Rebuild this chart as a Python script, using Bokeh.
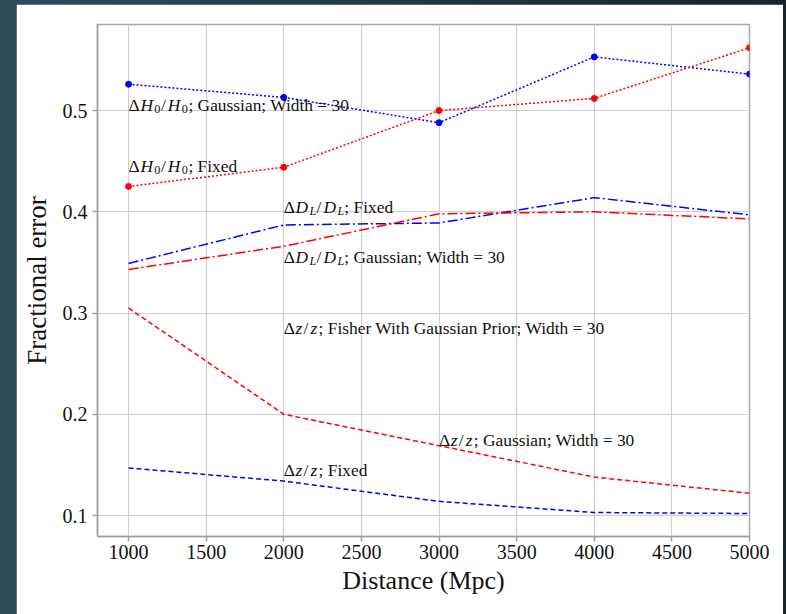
from bokeh.plotting import figure
from bokeh.models import ColumnDataSource, FixedTicker, Spacer
from bokeh.layouts import row, column
from bokeh.embed import file_html
from bokeh.resources import INLINE
from bokeh.core.properties import value

# Distances of the simulated sources (Mpc)
distance = [1000, 2000, 3000, 4000, 5000]

# Fractional errors for each parameter / prior choice
h0_gauss = [0.526, 0.513, 0.488, 0.553, 0.536]
h0_fixed = [0.425, 0.444, 0.500, 0.512, 0.562]
dl_fixed = [0.349, 0.387, 0.389, 0.414, 0.397]
dl_gauss = [0.343, 0.366, 0.398, 0.400, 0.393]
z_gauss = [0.305, 0.200, 0.169, 0.138, 0.122]
z_fixed = [0.147, 0.134, 0.114, 0.103, 0.102]

x_ticks = [1000, 1500, 2000, 2500, 3000, 3500, 4000, 4500, 5000]
y_ticks = [0.1, 0.2, 0.3, 0.4, 0.5]

# In-plot annotations: anchor, math variable, its subscript, trailing text
label_x = [1000, 1000, 2000, 2000, 2000, 2000, 3000]
label_y = [0.505, 0.445, 0.405, 0.355, 0.285, 0.145, 0.175]
label_var = ["H", "H", "D", "D", "z", "z", "z"]
label_sub = ["0", "0", "L", "L", "", "", ""]
label_rest = [
    "; Gaussian; Width = 30",
    "; Fixed",
    "; Fixed",
    "; Gaussian; Width = 30",
    "; Fisher With Gaussian Prior; Width = 30",
    "; Fixed",
    "; Gaussian; Width = 30",
]

FONT = "Liberation Serif"
FS = 17.4        # annotation font size (px)
SUB_FS = 12.2    # subscript font size (px)
SUB_DROP = 4     # subscript baseline drop (px)

# approximate advance widths (em of FS) of the math pieces
ADV = {"Δ": 0.68, "/": 0.40, "H": 0.80, "D": 0.80, "z": 0.46, "0": 0.38, "L": 0.40}

p = figure(
    width=767, height=610,
    x_range=(800, 5000), y_range=(0.0793, 0.585),
    output_backend="svg", toolbar_location=None,
    min_border_left=81, min_border_right=34, min_border_top=20, min_border_bottom=78,
)
p.background_fill_color = "white"
p.border_fill_color = "white"
p.outline_line_color = "#a8a8a8"
p.outline_line_width = 1.5

for ax in (p.xaxis, p.yaxis):
    ax.axis_line_color = "#a0a0a0"
    ax.axis_line_width = 1.5
    ax.major_tick_line_color = "#a0a0a0"
    ax.major_tick_line_width = 1.5
    ax.major_tick_out = 5
    ax.major_tick_in = 0
    ax.minor_tick_line_color = None
    ax.major_label_text_font = FONT
    ax.major_label_text_font_size = "20px"
    ax.major_label_text_color = "#111111"
    ax.axis_label_text_font = FONT
    ax.axis_label_text_font_style = "normal"
    ax.axis_label_text_color = "#111111"

p.xaxis.ticker = FixedTicker(ticks=x_ticks)
p.yaxis.ticker = FixedTicker(ticks=y_ticks)
p.xaxis.axis_label = "Distance (Mpc)"
p.yaxis.axis_label = "Fractional error"
p.xaxis.axis_label_text_font_size = "26px"
p.yaxis.axis_label_text_font_size = "27px"
p.xaxis.major_label_standoff = 3
p.yaxis.major_label_standoff = 5
p.xaxis.axis_label_standoff = 4
p.yaxis.axis_label_standoff = 8

p.grid.grid_line_color = "#cfcfcf"
p.grid.grid_line_width = 1.2

# Δz/z curves (dashed)
p.line(distance, z_gauss, line_color="red", line_width=1.5, line_dash="5 3")
p.line(distance, z_fixed, line_color="blue", line_width=1.5, line_dash="5 3")

# ΔD_L/D_L curves (dash-dot)
p.line(distance, dl_fixed, line_color="blue", line_width=1.5, line_dash="10 3 2 3")
p.line(distance, dl_gauss, line_color="red", line_width=1.5, line_dash="10 3 2 3")

# ΔH0/H0 curves (dotted with markers)
p.line(distance, h0_gauss, line_color="blue", line_width=1.5, line_dash="2 2")
p.scatter(distance, h0_gauss, marker="circle", size=6, fill_color="blue", line_color="blue")
p.line(distance, h0_fixed, line_color="red", line_width=1.5, line_dash="2 2")
p.scatter(distance, h0_fixed, marker="circle", size=6, fill_color="red", line_color="red")

# Annotations are assembled from runs: upright, italic, and subscripts
groups = {key: dict(x=[], y=[], text=[], xo=[]) for key in ("up", "it", "sub_up", "sub_it")}


def add_run(key, x, y, txt, xo):
    g = groups[key]
    g["x"].append(x)
    g["y"].append(y)
    g["text"].append(txt)
    g["xo"].append(xo)


for x, y, var, sub, rest in zip(label_x, label_y, label_var, label_sub, label_rest):
    off = 0.0
    for sym in ("Δ", "/"):
        add_run("up", x, y, sym, off)
        off += ADV[sym] * FS
        add_run("it", x, y, var, off)
        off += ADV[var] * FS
        if sub:
            add_run("sub_up" if sub.isdigit() else "sub_it", x, y, sub, off)
            off += ADV[sub] * FS
    add_run("up", x, y, rest, off)

styles = {
    "up": ("normal", FS, 0),
    "it": ("italic", FS, 0),
    "sub_up": ("normal", SUB_FS, SUB_DROP),
    "sub_it": ("italic", SUB_FS, SUB_DROP),
}
for key, (style, size, drop) in styles.items():
    if not groups[key]["x"]:
        continue
    p.text(
        x="x", y="y", text="text", x_offset="xo", y_offset=drop,
        source=ColumnDataSource(groups[key]),
        text_font=value(FONT), text_font_style=style, text_font_size=f"{size}px",
        text_color="#111111", text_align="left", text_baseline="alphabetic",
    )

page = row(
    Spacer(width=16, height=614),
    column(Spacer(width=767, height=4), p),
    Spacer(width=3, height=614),
    styles={"background": "linear-gradient(to right, #2f4c5a, #172229)"},
)

open("out.html", "w").write(file_html(page, INLINE))
